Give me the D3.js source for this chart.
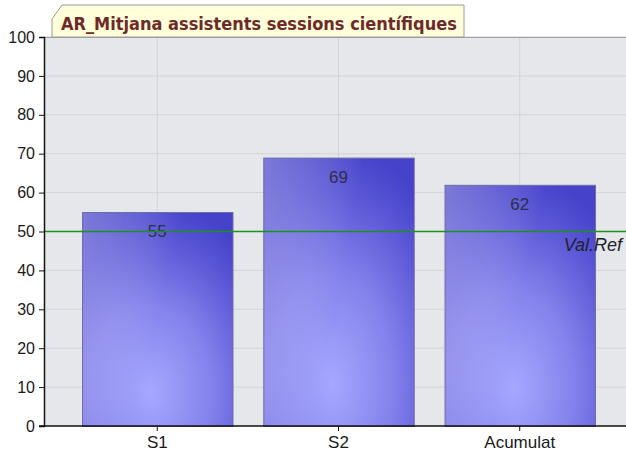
<!DOCTYPE html>
<html>
<head>
<meta charset="utf-8">
<script src="https://cdn.jsdelivr.net/npm/d3@7"></script>
<style>
  body { margin: 0; background: #fff; }
  svg { display: block; }
</style>
</head>
<body>
<div id="main"></div>
<script>
var categories = ["S1", "S2", "Acumulat"];
var values = [55, 69, 62];
var refValue = 50;
var refLabel = "Val.Ref";
var yTicks = [0, 10, 20, 30, 40, 50, 60, 70, 80, 90, 100];
var title = "AR_Mitjana assistents sessions científiques";

var width = 626, height = 454;
var margin = {top: 37, left: 44, bottom: 28};
var plotRight = 633;

var svg = d3.select("#main").append("svg")
    .attr("width", width)
    .attr("height", height);

var defs = svg.append("defs");

// bar fill: light glow near the bottom, darker towards the top right
var rg = defs.append("radialGradient")
    .attr("id", "barGlow")
    .attr("cx", 0.45).attr("cy", 0.84).attr("r", 0.9)
    .attr("fx", 0.45).attr("fy", 0.84);
rg.append("stop").attr("offset", 0).attr("stop-color", "#a6a8ff");
rg.append("stop").attr("offset", 0.45).attr("stop-color", "#8482ec");
rg.append("stop").attr("offset", 0.8).attr("stop-color", "#5a56d6");
rg.append("stop").attr("offset", 1).attr("stop-color", "#4642ca");

var lg = defs.append("linearGradient")
    .attr("id", "barSheen")
    .attr("x1", 0).attr("y1", 0).attr("x2", 1).attr("y2", 0.35);
lg.append("stop").attr("offset", 0).attr("stop-color", "#ffffff").attr("stop-opacity", 0.3);
lg.append("stop").attr("offset", 0.6).attr("stop-color", "#ffffff").attr("stop-opacity", 0);

var x = d3.scaleBand()
    .domain(categories)
    .range([margin.left, plotRight])
    .paddingInner(0.17)
    .paddingOuter(0.21);

var y = d3.scaleLinear()
    .domain([0, 100])
    .range([height - margin.bottom, margin.top]);

// plot background
svg.append("rect")
    .attr("x", margin.left)
    .attr("y", y(100))
    .attr("width", plotRight - margin.left)
    .attr("height", y(0) - y(100))
    .attr("fill", "#e5e7ea");

// grid
svg.append("g").selectAll("line")
    .data(yTicks.slice(1))
    .enter().append("line")
    .attr("x1", margin.left).attr("x2", plotRight)
    .attr("y1", function(d) { return y(d); })
    .attr("y2", function(d) { return y(d); })
    .attr("stroke", "#d4d4d6");

svg.append("g").selectAll("line")
    .data(categories)
    .enter().append("line")
    .attr("x1", function(d) { return x(d) + x.bandwidth() / 2; })
    .attr("x2", function(d) { return x(d) + x.bandwidth() / 2; })
    .attr("y1", y(100)).attr("y2", y(0))
    .attr("stroke", "#d4d4d6");

// top border of the plot
svg.append("line")
    .attr("x1", margin.left).attr("x2", plotRight)
    .attr("y1", y(100) + 0.5).attr("y2", y(100) + 0.5)
    .attr("stroke", "#a0a0a0");

// bars
var bars = svg.append("g").selectAll("g")
    .data(values)
    .enter().append("g");

bars.append("rect")
    .attr("x", function(d, i) { return x(categories[i]) + 0.5; })
    .attr("y", function(d) { return y(d) + 0.5; })
    .attr("width", x.bandwidth())
    .attr("height", function(d) { return y(0) - y(d); })
    .attr("fill", "url(#barGlow)")
    .attr("stroke", "#6c6ca4");

bars.append("rect")
    .attr("x", function(d, i) { return x(categories[i]) + 1; })
    .attr("y", function(d) { return y(d) + 1; })
    .attr("width", x.bandwidth() - 1)
    .attr("height", function(d) { return y(0) - y(d) - 1; })
    .attr("fill", "url(#barSheen)");

// reference line
svg.append("line")
    .attr("x1", margin.left).attr("x2", plotRight)
    .attr("y1", y(refValue)).attr("y2", y(refValue))
    .attr("stroke", "#1f8f1f")
    .attr("stroke-width", 1.6);

svg.append("text")
    .attr("x", 622)
    .attr("y", y(refValue) + 19)
    .attr("text-anchor", "end")
    .attr("font-family", "Liberation Sans, Arial, sans-serif")
    .attr("font-style", "italic")
    .attr("font-size", 18)
    .attr("fill", "#22222e")
    .text(refLabel);

// value labels
bars.append("text")
    .attr("x", function(d, i) { return x(categories[i]) + x.bandwidth() / 2; })
    .attr("y", function(d) { return y(d) + 25; })
    .attr("text-anchor", "middle")
    .attr("font-family", "Liberation Sans, Arial, sans-serif")
    .attr("font-size", 17)
    .attr("fill", "#2e2e48")
    .text(function(d) { return d; });

// y axis
var yAxis = svg.append("g")
    .attr("transform", "translate(" + margin.left + ",0)")
    .call(d3.axisLeft(y).tickValues(yTicks).tickSize(5).tickPadding(4));
yAxis.select(".domain").attr("stroke", "#111").attr("stroke-width", 1.5);
yAxis.selectAll(".tick line").attr("stroke", "#111");
yAxis.selectAll("text")
    .attr("font-family", "Liberation Sans, Arial, sans-serif")
    .attr("font-size", 16)
    .attr("fill", "#1a1a1a");

// x axis
var xAxis = svg.append("g")
    .attr("transform", "translate(0," + y(0) + ")")
    .call(d3.axisBottom(x).tickSize(5).tickSizeOuter(0).tickPadding(5));
xAxis.select(".domain").attr("stroke", "#111").attr("stroke-width", 1.5)
    .attr("d", "M" + (margin.left - 5) + ",0H" + plotRight);
xAxis.selectAll(".tick line").attr("stroke", "#111");
xAxis.selectAll("text")
    .attr("font-family", "Liberation Sans, Arial, sans-serif")
    .attr("font-size", 17)
    .attr("fill", "#1a1a1a");

// title tab
var tab = svg.append("g");
var tx0 = 52, tx1 = 464, ty0 = 5, ty1 = y(100);
tab.append("path")
    .attr("d", "M" + tx0 + "," + ty1 + "V" + (ty0 + 14) + "L" + (tx0 + 10) + "," + ty0 +
        "H" + tx1 + "V" + ty1 + "Z")
    .attr("fill", "#ffffd9")
    .attr("stroke", "#9a9a9a");
tab.append("text")
    .attr("x", 61)
    .attr("y", 30)
    .attr("font-family", "DejaVu Sans Condensed, DejaVu Sans, sans-serif")
    .attr("font-stretch", "condensed")
    .attr("font-weight", "bold")
    .attr("font-size", 18)
    .attr("fill", "#6e2a2a")
    .text(title);
</script>
</body>
</html>
